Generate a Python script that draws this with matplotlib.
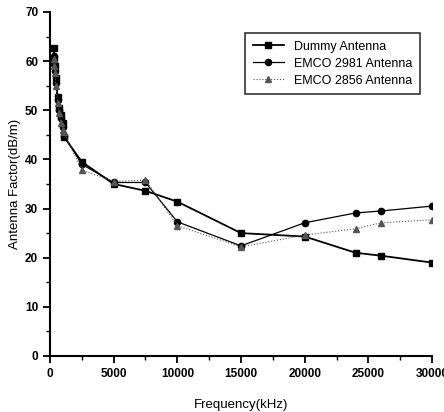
import matplotlib
matplotlib.use("Agg")
from matplotlib import pyplot as plt
from matplotlib.ticker import MultipleLocator

plt.rcParams["font.family"] = ["Liberation Sans", "DejaVu Sans"]

# frequency points (kHz)
freq = [300, 350, 400, 450, 600, 700, 850, 1000, 1100,
        2500, 5000, 7500, 10000, 15000, 20000, 24000, 26000, 30000]

dummy = [62.7, 60.5, 58.9, 56.6, 52.7, 50.5, 49.1, 47.4, 44.6,
         39.5, 35.0, 33.6, 31.4, 25.0, 24.3, 21.0, 20.4, 19.0]
emco_2981 = [61.0, 59.5, 58.0, 55.5, 52.0, 50.0, 48.5, 46.5, 44.8,
             39.0, 35.3, 35.3, 27.3, 22.4, 27.1, 29.1, 29.5, 30.5]
emco_2856 = [60.5, 59.0, 57.5, 55.0, 51.5, 49.5, 47.5, 46.0, 45.5,
             37.8, 35.5, 35.8, 26.5, 22.2, 24.6, 25.9, 27.1, 27.7]

labels = ["Dummy Antenna", "EMCO 2981 Antenna", "EMCO 2856 Antenna"]

fig = plt.figure(figsize=(4.44, 4.12), dpi=100)
ax = fig.add_axes([0.1126, 0.136, 0.8604, 0.835])

ax.plot(freq, dummy, color="black", lw=1.3, marker="s", ms=4.5, label=labels[0])
ax.plot(freq, emco_2981, color="black", lw=0.9, marker="o", ms=4.5, label=labels[1])
ax.plot(freq, emco_2856, color="#555555", lw=0.8, ls=":", marker="^", ms=4.5,
        label=labels[2])

ax.set_xlim(0, 30000)
ax.set_ylim(0, 70)
ax.xaxis.set_major_locator(MultipleLocator(5000))
ax.xaxis.set_minor_locator(MultipleLocator(2500))
ax.yaxis.set_major_locator(MultipleLocator(10))
ax.yaxis.set_minor_locator(MultipleLocator(5))
ax.spines["top"].set_visible(False)
ax.spines["right"].set_visible(False)
ax.spines["left"].set_linewidth(1.5)
ax.spines["bottom"].set_linewidth(1.5)
ax.tick_params(which="major", direction="out", length=5, width=1.3,
               labelsize=8.5)
ax.tick_params(which="minor", direction="out", length=3, width=1.0)
for t in ax.get_xticklabels() + ax.get_yticklabels():
    t.set_fontweight("bold")

ax.set_xlabel("Frequency(kHz)", fontsize=9.5, labelpad=14)
ax.set_ylabel("Antenna Factor(dB/m)", fontsize=9.5, labelpad=3)

leg = ax.legend(loc="upper right", bbox_to_anchor=(0.984, 0.956),
                fontsize=9, frameon=True, fancybox=False,
                edgecolor="black", handlelength=2.5, borderpad=0.6,
                labelspacing=0.4)
leg.get_frame().set_linewidth(1.2)

plt.savefig("out.png", dpi=100)
